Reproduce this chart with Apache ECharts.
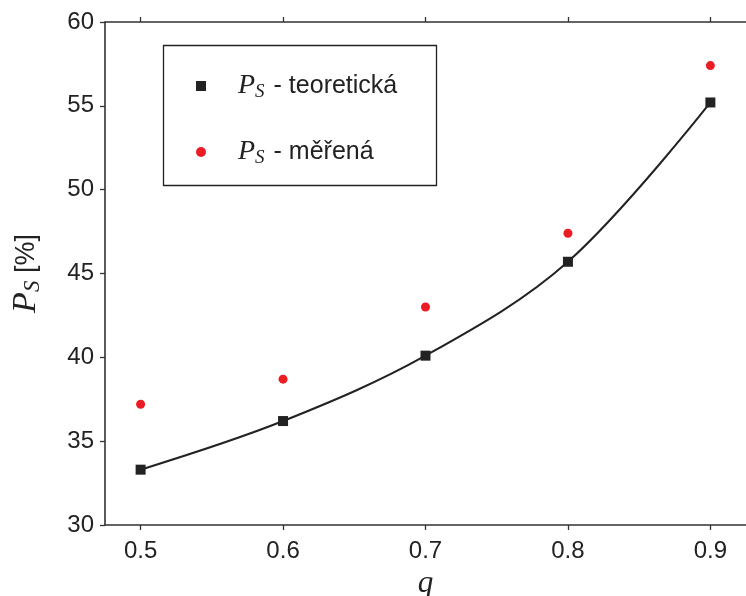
<!DOCTYPE html>
<html>
<head>
<meta charset="utf-8">
<script src="https://cdn.jsdelivr.net/npm/echarts@6/dist/echarts.min.js"></script>
<style>html,body{margin:0;padding:0;background:#fff}#c{width:746px;height:596px}</style>
</head>
<body>
<div id="c"></div>
<script>
var qValues = [0.5, 0.6, 0.7, 0.8, 0.9];
var teoretical = [33.3, 36.2, 40.1, 45.7, 55.2];
var measured = [37.2, 38.7, 43.0, 47.4, 57.4];
var xTicks = [0.5, 0.6, 0.7, 0.8, 0.9];

var chart = echarts.init(document.getElementById('c'), null, {renderer: 'canvas'});
var lab = {fontFamily: 'Liberation Sans, Arial, sans-serif', fontSize: 24, color: '#222'};
var serif = 'Liberation Serif, DejaVu Serif, serif';
var rich = {
  p: {fontFamily: serif, fontStyle: 'italic', fontSize: 28, color: '#222', lineHeight: 30},
  s: {fontFamily: serif, fontStyle: 'italic', fontSize: 19, color: '#222', lineHeight: 30, padding: [11, 0, 0, 0]},
  t: {fontFamily: 'Liberation Sans, Arial, sans-serif', fontSize: 25, color: '#222', lineHeight: 30, padding: [0, 0, 0, 9]}
};
chart.setOption({
  animation: false,
  grid: {left: 105, right: 0, top: 22, bottom: 71, outerBoundsMode: 'none'},
  graphic: [{
    type: 'rect', shape: {x: 163.5, y: 45.5, width: 273, height: 140},
    style: {fill: 'none', stroke: '#222', lineWidth: 1.3}, z: 10
  }],
  legend: {
    orient: 'vertical', left: 191, top: 66, itemGap: 36,
    itemWidth: 10, itemHeight: 10,
    data: [
      {name: 'teoretická', icon: 'rect'},
      {name: 'měřená', icon: 'circle'}
    ],
    formatter: function (n) { return '{p|P}{s|S}{t|- ' + n + '}'; },
    textStyle: {rich: rich, padding: [0, 0, 0, 27]}
  },
  xAxis: [{
    type: 'value', min: 0.475, max: 0.925, position: 'bottom',
    name: 'q', nameLocation: 'middle', nameGap: 42,
    nameTextStyle: {fontFamily: serif, fontStyle: 'italic', fontSize: 31, color: '#222'},
    axisLine: {show: true, onZero: false, lineStyle: {color: '#333', width: 1.6}},
    axisTick: {show: true, length: 5, customValues: xTicks, lineStyle: {color: '#333', width: 1.3}},
    axisLabel: Object.assign({margin: 14, customValues: xTicks, formatter: function (v) { return v.toFixed(1); }}, lab),
    splitLine: {show: false}
  }, {
    type: 'value', min: 0.475, max: 0.925, position: 'top',
    axisLine: {show: true, onZero: false, lineStyle: {color: '#333', width: 1.6}},
    axisTick: {show: true, length: 5, customValues: xTicks, lineStyle: {color: '#333', width: 1.3}},
    axisLabel: {show: false},
    splitLine: {show: false}
  }],
  yAxis: {
    type: 'value', min: 30, max: 60, interval: 5,
    name: '{p|P}{s|S}{t| [%]}', nameLocation: 'middle', nameGap: 61,
    nameTextStyle: {rich: {
      p: {fontFamily: serif, fontStyle: 'italic', fontSize: 34, color: '#222'},
      s: {fontFamily: serif, fontStyle: 'italic', fontSize: 23, color: '#222', padding: [12, 0, 0, 0]},
      t: {fontFamily: 'Liberation Sans, Arial, sans-serif', fontSize: 27, color: '#222'}
    }},
    axisLine: {show: true, lineStyle: {color: '#333', width: 1.6}},
    axisTick: {show: true, length: 5, lineStyle: {color: '#333', width: 1.3}},
    axisLabel: Object.assign({margin: 11}, lab),
    splitLine: {show: false}
  },
  series: [{
    name: 'teoretická', type: 'line', smooth: 0.35,
    data: qValues.map(function (q, i) { return [q, teoretical[i]]; }),
    symbol: 'rect', symbolSize: 10,
    itemStyle: {color: '#222'},
    lineStyle: {color: '#222', width: 2}
  }, {
    name: 'měřená', type: 'scatter',
    data: qValues.map(function (q, i) { return [q, measured[i]]; }),
    symbol: 'circle', symbolSize: 9,
    itemStyle: {color: '#ec1c24', opacity: 1}
  }]
});
</script>
</body>
</html>
